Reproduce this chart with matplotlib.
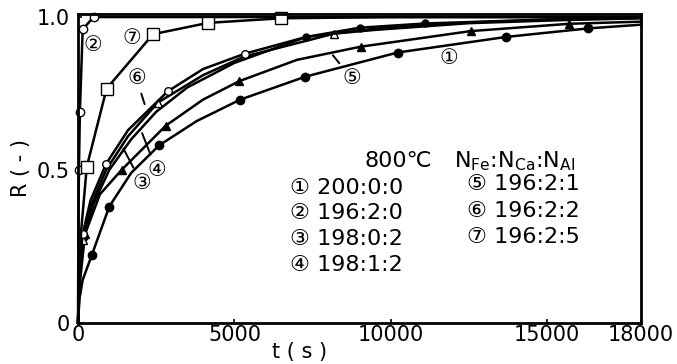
import matplotlib
matplotlib.use("Agg")
import matplotlib.pyplot as plt

plt.rcParams['font.family'] = ['DejaVu Sans', 'Noto Sans CJK JP']

# ---- data (t in s, R dimensionless) ----
t1 = [0, 50, 150, 437, 1000, 1700, 2590, 3800, 5190, 7270, 10220, 13690, 16320, 18000]
r1 = [0, 0.08, 0.14, 0.22, 0.38, 0.49, 0.58, 0.66, 0.73, 0.805, 0.884, 0.935, 0.963, 0.975]
m1 = [3, 4, 6, 8, 9, 10, 11, 12]

t2 = [0, 15, 30, 60, 150, 500, 2000, 6000, 12000, 18000]
r2 = [0, 0.35, 0.50, 0.69, 0.96, 1.0, 1.0, 1.0, 1.0, 1.0]
m2 = [2, 3, 4, 5]

t3 = [0, 40, 150, 400, 900, 1600, 2550, 4000, 5300, 8200, 9500, 12500, 15500, 18000]
r3 = [0, 0.15, 0.27, 0.38, 0.50, 0.61, 0.72, 0.81, 0.87, 0.946, 0.958, 0.98, 0.99, 0.996]
m3 = [2, 6, 9]

t4 = [0, 40, 200, 500, 1000, 1700, 2500, 3500, 5000, 7300, 9000, 11100, 15000, 18000]
r4 = [0, 0.14, 0.28, 0.39, 0.50, 0.60, 0.69, 0.77, 0.85, 0.935, 0.965, 0.979, 0.992, 0.997]
m4 = [2, 9, 10, 11]

t5 = [0, 50, 224, 700, 1395, 2810, 4000, 5150, 7000, 9035, 12550, 15710, 18000]
r5 = [0, 0.12, 0.29, 0.42, 0.50, 0.645, 0.73, 0.79, 0.86, 0.903, 0.954, 0.978, 0.985]
m5 = [2, 4, 5, 7, 9, 10, 11]

t6 = [0, 40, 150, 400, 900, 1600, 2870, 4000, 5330, 7300, 9500, 12500, 15500, 18000]
r6 = [0, 0.17, 0.29, 0.40, 0.52, 0.63, 0.757, 0.83, 0.88, 0.935, 0.962, 0.982, 0.993, 0.998]
m6 = [2, 4, 6, 8]

t7 = [0, 100, 280, 915, 2400, 4160, 6500, 10000, 14000, 18000]
r7 = [0, 0.30, 0.51, 0.766, 0.944, 0.981, 0.996, 1.0, 1.0, 1.0]
m7 = [2, 3, 4, 5, 6]

legend_left = ["① 200:0:0", "② 196:2:0", "③ 198:0:2", "④ 198:1:2"]
legend_right = ["⑤ 196:2:1", "⑥ 196:2:2", "⑦ 196:2:5"]
xticks = [0, 5000, 10000, 15000, 18000]
xticklabels = ["0", "5000", "10000", "15000", "18000"]
yticks = [0, 0.5, 1.0]
yticklabels = ["0", "0.5", "1.0"]

fig = plt.figure(figsize=(6.77, 3.64), dpi=100)
ax = fig.add_axes([78/677, 1-322.7/364, (641-78)/677, (322.7-14)/364])

lw = 1.8
k = 'black'
ax.plot(t1, r1, color=k, lw=lw, marker='o', ms=6, mfc=k, markevery=m1, clip_on=False)
ax.plot(t5, r5, color=k, lw=lw, marker='^', ms=6, mfc=k, markevery=m5, clip_on=False)
ax.plot(t4, r4, color=k, lw=lw, marker='o', ms=5, mfc=k, markevery=m4, clip_on=False)
ax.plot(t3, r3, color=k, lw=lw, marker='^', ms=6, mfc='white', markevery=m3, clip_on=False)
ax.plot(t6, r6, color=k, lw=lw, marker='o', ms=5.5, mfc='white', markevery=m6, clip_on=False)
ax.plot(t2, r2, color=k, lw=lw, marker='o', ms=6, mfc='white', markevery=m2, clip_on=False)
ax.plot(t7, r7, color=k, lw=lw, marker='s', ms=9, mfc='white', markevery=m7, clip_on=False)

ax.set_xlim(0, 18000)
ax.set_ylim(0, 1.01)
ax.set_xticks(xticks)
ax.set_xticklabels(xticklabels, fontsize=15)
ax.set_yticks(yticks)
ax.set_yticklabels(yticklabels, fontsize=15)
ax.tick_params(axis='x', direction='in', length=3, width=1.2, pad=2)
ax.tick_params(axis='y', direction='in', length=3, width=1.2, pad=6)
for s in ax.spines.values():
    s.set_linewidth(2)

ax.set_xlabel("t ( s )", fontsize=15)
ax.xaxis.set_label_coords((300-78)/(641-78), -(352-322.7)/(322.7-14), transform=ax.transAxes)
ax.xaxis.label.set_va('center')
ax.set_ylabel("R ( - )", fontsize=15, labelpad=4)

# curve labels with leader lines
fs = 15
arr = dict(arrowstyle='-', lw=1.4, color=k, shrinkA=2, shrinkB=0)
ax.text(490, 0.91, "②", fontsize=fs, ha='center', va='center')
ax.text(1710, 0.93, "⑦", fontsize=fs, ha='center', va='center')
ax.annotate("⑥", xy=(2130, 0.715), xytext=(1870, 0.80), fontsize=fs, ha='center', va='center', arrowprops=arr)
ax.annotate("③", xy=(1450, 0.57), xytext=(2030, 0.457), fontsize=fs, ha='center', va='center', arrowprops=arr)
ax.annotate("④", xy=(2050, 0.62), xytext=(2510, 0.50), fontsize=fs, ha='center', va='center', arrowprops=arr)
ax.annotate("⑤", xy=(8150, 0.875), xytext=(8740, 0.80), fontsize=fs, ha='center', va='center', arrowprops=arr)
ax.text(11860, 0.865, "①", fontsize=fs, ha='center', va='center')

# annotation block
fs2 = 16
ax.text(9164, 0.53, "800℃", fontsize=fs2, ha='left', va='center')
ax.text(12037, 0.53, r"N$_{\mathrm{Fe}}$:N$_{\mathrm{Ca}}$:N$_{\mathrm{Al}}$", fontsize=fs2, ha='left', va='center')
for i, s in enumerate(legend_left):
    ax.text(6770, 0.442 - i*0.084, s, fontsize=fs2, ha='left', va='center')
for i, s in enumerate(legend_right):
    ax.text(12450, 0.455 - i*0.088, s, fontsize=fs2, ha='left', va='center')

fig.savefig("out.png", dpi=100)
